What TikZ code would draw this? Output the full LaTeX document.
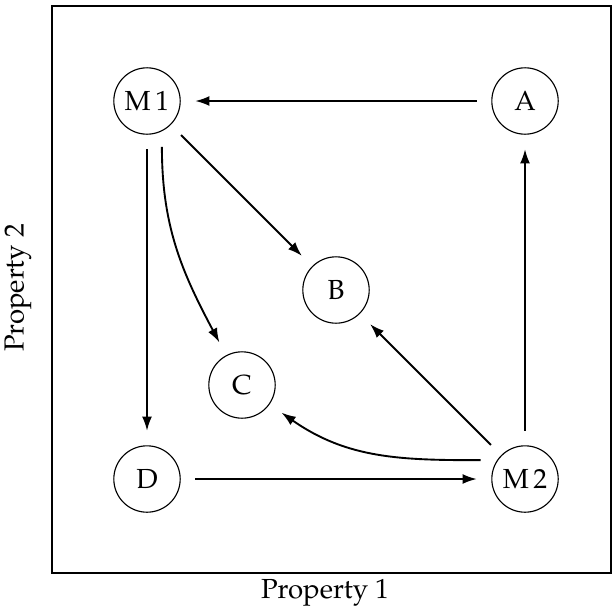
\documentclass[tikz,border=0pt]{standalone}
\usepackage[T1]{fontenc}
\usepackage{mathpazo}
\usepackage{tikz}
\usetikzlibrary{arrows.meta}

\begin{document}
\begin{tikzpicture}[x=0.014cm,y=-0.014cm,font=\fontsize{11}{13}\selectfont]
  \tikzset{vertex/.style = {shape=circle,draw,line width=0.45pt,minimum size=0.93cm,inner sep=0pt,outer sep=0.21cm}}
  \tikzset{edge/.style = {-{Latex[length=0.2cm,width=0.14cm]},line width=0.75pt}}

	\useasboundingbox (0,0) rectangle (613,611);
	\draw[line width=1pt] (52,6) rectangle (611,573);

	\node[vertex] (M1) at (147,101) {M\,1};
	\node[vertex] (A) at (525,101) {A};
	\node[vertex] (B) at (336,290) {B};
	\node[vertex] (C) at (242,385) {C};
	\node[vertex] (D) at (147,479) {D};
	\node[vertex] (M2) at (525,479) {M\,2};

	\node (px) at (325,593) {Property 1};
	\node[rotate=90] (py) at (18,288) {Property 2};

    \foreach \from/\to in {A/M1,M1/B,M1/D,D/M2,M2/B,M2/A}
    \draw[edge] (\from) -- (\to);

	% the two bent ones
	\draw[edge] (M1.-72) to[out=-90,in=118] (C);
	\draw[edge] (M2.157) to[out=180,in=-35] (C);

\end{tikzpicture}
\end{document}
